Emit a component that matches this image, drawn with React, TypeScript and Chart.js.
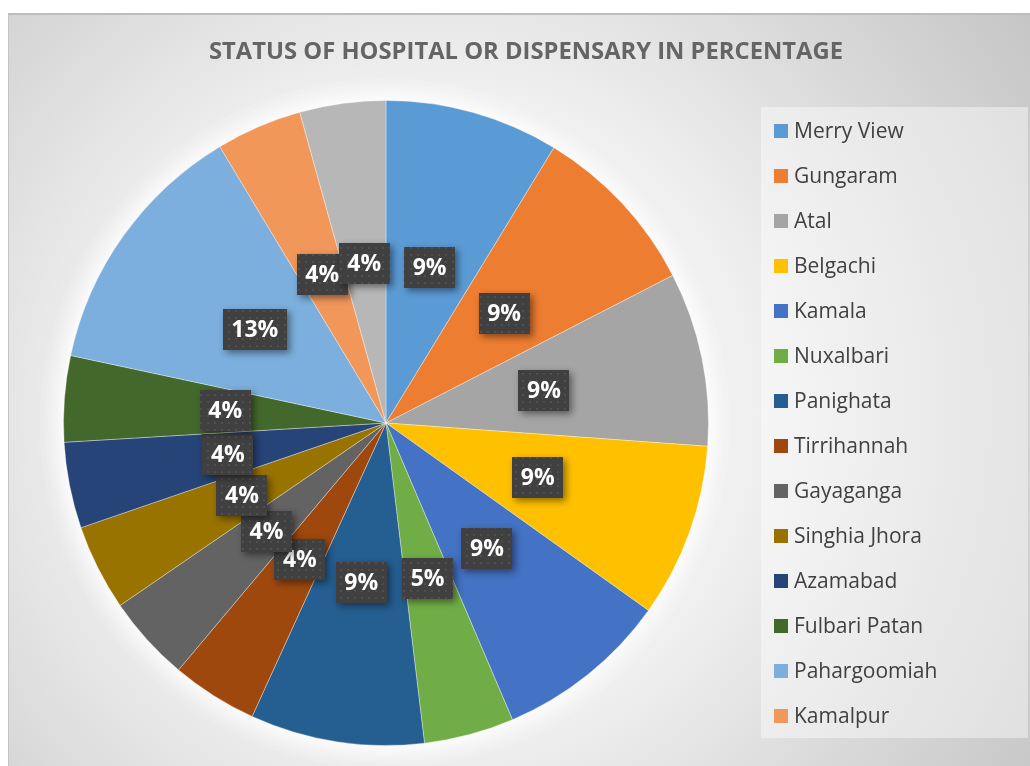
import React, { useEffect, useRef } from "react";
import { Chart, registerables } from "chart.js";

Chart.register(...registerables);

const chartTitle = "STATUS OF HOSPITAL OR DISPENSARY IN PERCENTAGE";
const categories = [
  "Merry View",
  "Gungaram",
  "Atal",
  "Belgachi",
  "Kamala",
  "Nuxalbari",
  "Panighata",
  "Tirrihannah",
  "Gayaganga",
  "Singhia Jhora",
  "Azamabad",
  "Fulbari Patan",
  "Pahargoomiah",
  "Kamalpur",
  "Others",
];
const shares = [8.7, 8.7, 8.7, 8.7, 8.7, 4.5, 8.7, 4.3, 4.3, 4.3, 4.3, 4.3, 13.0, 4.3, 4.3];
const sliceColors = [
  "#5B9BD5",
  "#ED7D31",
  "#A5A5A5",
  "#FFC000",
  "#4472C4",
  "#70AD47",
  "#255E91",
  "#9E480E",
  "#636363",
  "#997300",
  "#264478",
  "#43682B",
  "#7CAFDD",
  "#F1975A",
  "#B7B7B7",
];

const W = 1022;
const H = 753;
const FONT = "'Open Sans', 'DejaVu Sans', sans-serif";

function makePattern(ctx: CanvasRenderingContext2D) {
  const c = document.createElement("canvas");
  c.width = 7;
  c.height = 7;
  const p = c.getContext("2d")!;
  p.fillStyle = "#404040";
  p.fillRect(0, 0, 7, 7);
  p.fillStyle = "#4f4f4f";
  p.fillRect(3, 3, 2, 2);
  return ctx.createPattern(c, "repeat");
}

const decorPlugin = {
  id: "decor",
  beforeDraw(chart: any) {
    const ctx = chart.ctx as CanvasRenderingContext2D;
    ctx.save();
    const g = ctx.createRadialGradient(420, 400, 0, 420, 400, 720);
    g.addColorStop(0, "#f6f6f6");
    g.addColorStop(0.45, "#f0f0f0");
    g.addColorStop(0.75, "#d8d8d8");
    g.addColorStop(1, "#c6c6c6");
    ctx.fillStyle = g;
    ctx.fillRect(0, 0, W, H);

    // title
    ctx.fillStyle = "#656565";
    ctx.font = `bold 23px ${FONT}`;
    ctx.textBaseline = "middle";
    ctx.textAlign = "center";
    const tw = ctx.measureText(chartTitle).width;
    const sx = 634 / tw;
    ctx.translate(518, 39);
    ctx.scale(sx, 1);
    ctx.fillText(chartTitle, 0, 0);
    ctx.restore();

    // legend
    ctx.save();
    const bx = 753, by = 94, bw = 267, bh = 631;
    ctx.fillStyle = "rgba(255,255,255,0.42)";
    ctx.fillRect(bx, by, bw, bh);
    ctx.font = `21px ${FONT}`;
    ctx.textBaseline = "middle";
    ctx.textAlign = "left";
    categories.forEach((name, i) => {
      const cy = 118 + i * 45;
      if (cy + 12 > by + bh) return;
      ctx.fillStyle = sliceColors[i];
      ctx.fillRect(766, cy - 7, 14, 14);
      ctx.fillStyle = "#404040";
      ctx.fillText(name, 786, cy + 1);
    });
    ctx.restore();
  },
  beforeDatasetsDraw(chart: any) {
    const meta = chart.getDatasetMeta(0);
    const arc = meta.data[0];
    if (!arc) return;
    const { x, y, outerRadius } = arc.getProps(["x", "y", "outerRadius"], true);
    const ctx = chart.ctx as CanvasRenderingContext2D;
    ctx.save();
    ctx.shadowColor = "rgba(255,255,255,1)";
    ctx.shadowBlur = 30;
    ctx.fillStyle = "#ffffff";
    ctx.beginPath();
    ctx.arc(x, y, outerRadius, 0, Math.PI * 2);
    ctx.fill();
    ctx.fill();
    ctx.restore();
  },
  afterDatasetsDraw(chart: any) {
    const ctx = chart.ctx as CanvasRenderingContext2D;
    const meta = chart.getDatasetMeta(0);
    const pattern = makePattern(ctx);
    const values = chart.data.datasets[0].data as number[];
    ctx.save();
    ctx.font = `bold 23px ${FONT}`;
    ctx.textAlign = "center";
    ctx.textBaseline = "middle";
    meta.data.forEach((arc: any, i: number) => {
      const p = arc.getCenterPoint();
      const text = `${Math.round(values[i])}%`;
      const tw = ctx.measureText(text).width;
      const bw = Math.round(tw + 17);
      const bh = 41;
      const x0 = Math.round(p.x - bw / 2);
      const y0 = Math.round(p.y - bh / 2);
      ctx.save();
      ctx.shadowColor = "rgba(0,0,0,0.45)";
      ctx.shadowBlur = 7;
      ctx.shadowOffsetX = 3;
      ctx.shadowOffsetY = 3;
      ctx.fillStyle = "#404040";
      ctx.fillRect(x0, y0, bw, bh);
      ctx.restore();
      if (pattern) {
        ctx.fillStyle = pattern;
        ctx.fillRect(x0, y0, bw, bh);
      }
      ctx.fillStyle = "#ffffff";
      ctx.fillText(text, p.x, p.y + 1);
    });
    ctx.restore();
  },
};

export default function App() {
  const ref = useRef<HTMLCanvasElement | null>(null);
  useEffect(() => {
    if (!ref.current) return;
    const chart = new Chart(ref.current, {
      type: "pie",
      data: {
        labels: categories,
        datasets: [
          {
            data: shares,
            backgroundColor: sliceColors,
            borderColor: "rgba(255,255,255,0.35)",
            borderWidth: 1,
          },
        ],
      },
      options: {
        responsive: false,
        animation: false,
        devicePixelRatio: 1,
        layout: { padding: { left: 55, top: 87, right: 321, bottom: 20 } },
        plugins: {
          legend: { display: false },
          title: { display: false },
          tooltip: { enabled: false },
        },
      },
      plugins: [decorPlugin],
    });
    return () => chart.destroy();
  }, []);
  return (
    <div
      style={{
        position: "absolute",
        left: 8,
        top: 13,
        width: W,
        height: H,
        borderTop: "2px solid #bdbdbd",
        borderLeft: "1px solid #c4c4c4",
        boxSizing: "border-box",
        overflow: "hidden",
      }}
    >
      <canvas ref={ref} width={W} height={H} style={{ display: "block", position: "absolute", left: -1, top: -2 }} />
    </div>
  );
}
